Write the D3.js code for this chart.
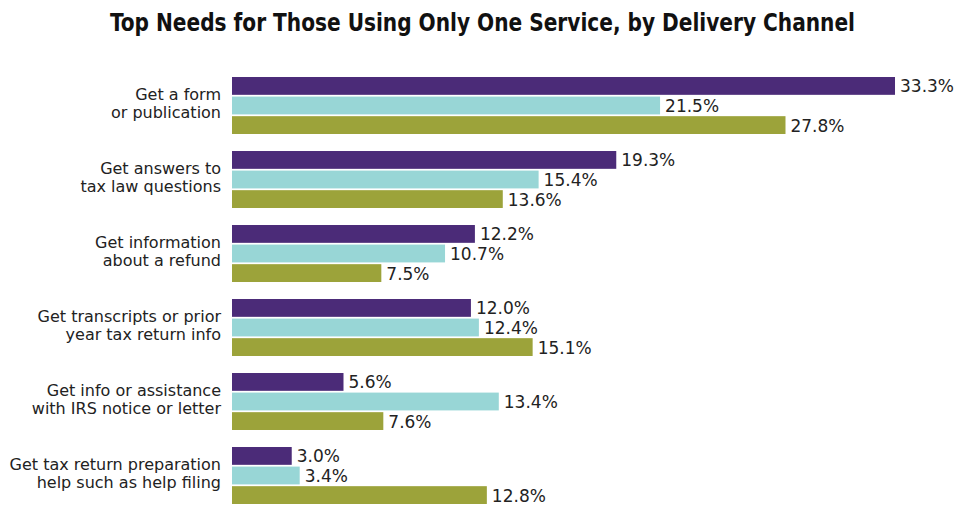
<!DOCTYPE html>
<html>
<head>
<meta charset="utf-8">
<script src="https://cdn.jsdelivr.net/npm/d3@7"></script>
<style>
  html, body { margin: 0; padding: 0; background: #fff; }
  svg { display: block; }
</style>
</head>
<body>
<svg id="chart" width="956" height="505"></svg>
<script>
// Categories (two-line labels) and the three delivery-channel series, in percent
const categories = [
  ["Get a form", "or publication"],
  ["Get answers to", "tax law questions"],
  ["Get information", "about a refund"],
  ["Get transcripts or prior", "year tax return info"],
  ["Get info or assistance", "with IRS notice or letter"],
  ["Get tax return preparation", "help such as help filing"]
];
const seriesNames = ["channelA", "channelB", "channelC"];
const channelA = [33.3, 19.3, 12.2, 12.0, 5.6, 3.0];
const channelB = [21.5, 15.4, 10.7, 12.4, 13.4, 3.4];
const channelC = [27.8, 13.6, 7.5, 15.1, 7.6, 12.8];
const seriesColors = ["#4b2b78", "#98d6d6", "#9ca33a"];
const title = "Top Needs for Those Using Only One Service, by Delivery Channel";

const seriesValues = [channelA, channelB, channelC];
const svg = d3.select("#chart");
const catKeys = categories.map((d, i) => i);

const x = d3.scaleLinear().domain([0, 35]).range([232, 232 + 35 * 19.91]);

const y = d3.scaleBand()
  .domain(catKeys)
  .range([68.5, 512.5])
  .paddingInner(0.23)
  .paddingOuter(0.115);

const ySub = d3.scaleBand()
  .domain(seriesNames)
  .range([0, y.bandwidth()])
  .paddingInner(0.09);

// Title, condensed to its set width
svg.append("text")
  .attr("x", 482.5)
  .attr("y", 31)
  .attr("text-anchor", "middle")
  .attr("font-family", "'Liberation Sans Narrow', 'DejaVu Sans Condensed', sans-serif")
  .attr("font-weight", "bold")
  .attr("font-size", 25)
  .attr("textLength", 745)
  .attr("lengthAdjust", "spacingAndGlyphs")
  .attr("fill", "#111")
  .text(title);

// Category labels
const labels = svg.append("g")
  .attr("font-family", "'DejaVu Sans', sans-serif")
  .attr("font-size", 16)
  .attr("fill", "#222")
  .attr("text-anchor", "end");

categories.forEach((lines, i) => {
  const cy = y(i) + y.bandwidth() / 2;
  const t = labels.append("text").attr("x", 221).attr("y", cy - 3);
  lines.forEach((ln, j) => {
    t.append("tspan")
      .attr("x", 221)
      .attr("y", cy - 6 + j * 18)
      .text(ln);
  });
});

// Bars and value labels
const groups = svg.append("g").selectAll("g")
  .data(catKeys)
  .join("g")
  .attr("transform", i => `translate(0,${y(i)})`);

groups.selectAll("rect")
  .data(i => seriesNames.map((s, k) => ({ s, k, v: seriesValues[k][i] })))
  .join("rect")
  .attr("x", x(0))
  .attr("y", d => ySub(d.s))
  .attr("width", d => x(d.v) - x(0))
  .attr("height", ySub.bandwidth())
  .attr("fill", d => seriesColors[d.k]);

groups.selectAll("text")
  .data(i => seriesNames.map((s, k) => ({ s, k, v: seriesValues[k][i] })))
  .join("text")
  .attr("x", d => x(d.v) + 5)
  .attr("y", d => ySub(d.s) + ySub.bandwidth() / 2 + 6.5)
  .attr("font-family", "'DejaVu Sans', sans-serif")
  .attr("font-size", 17)
  .attr("fill", "#222")
  .text(d => d3.format(".1f")(d.v) + "%");
</script>
</body>
</html>
